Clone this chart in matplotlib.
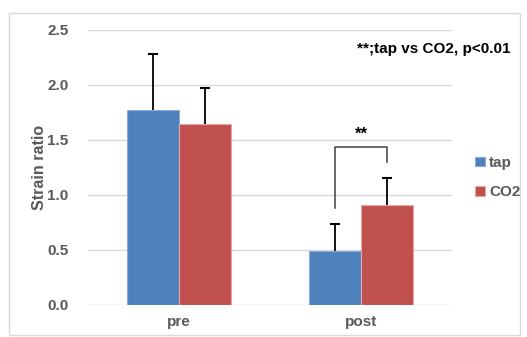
import numpy as np
import matplotlib.pyplot as plt
from matplotlib.patches import Rectangle

plt.rcParams['font.family'] = ['Liberation Sans', 'DejaVu Sans']

# data
groups = ['pre', 'post']
series = ['tap', 'CO2']
tap_mean = [1.77, 0.49]
tap_err = [0.51, 0.25]
co2_mean = [1.645, 0.905]
co2_err = [0.33, 0.245]
colors = ['#4F81BD', '#C0504D']

fig = plt.figure(figsize=(5.27, 3.37), dpi=100)
ax = fig.add_axes([0.167, 0.095, 0.691, 0.816])

# chart border
fig.patches.append(Rectangle((0.018, 0.005), 0.968, 0.957, transform=fig.transFigure,
                             fill=False, edgecolor='#D9D9D9', linewidth=1))

x = np.arange(len(groups))
w = 0.286

ax.bar(x - w / 2, tap_mean, w, color=colors[0], edgecolor='#8EAADB', linewidth=0.8,
       label=series[0], zorder=3)
ax.bar(x + w / 2, co2_mean, w, color=colors[1], edgecolor='#E6A7A6', linewidth=0.8,
       label=series[1], zorder=3)

# upper error bars only
for xs, m, e in [(x - w / 2, tap_mean, tap_err), (x + w / 2, co2_mean, co2_err)]:
    top = np.array(m) + np.array(e)
    ax.vlines(xs, m, top, color='black', linewidth=1.3, zorder=4)
    ax.plot(xs, top, ls='none', marker='_', ms=7, mew=1.5, color='black', zorder=4)

# significance bracket (post)
ax.plot([1 - w / 2, 1 - w / 2, 1 + w / 2, 1 + w / 2], [0.88, 1.44, 1.44, 1.30],
        color='#404040', linewidth=1.1, zorder=4)
ax.text(1, 1.48, '**', ha='center', va='bottom', fontsize=12, fontweight='bold')

ax.set_xlim(-0.5, 1.5)
ax.set_ylim(0, 2.5)
ax.set_yticks(np.arange(0, 2.51, 0.5))
ax.set_yticklabels(['%.1f' % v for v in np.arange(0, 2.51, 0.5)])
ax.set_xticks(x)
ax.set_xticklabels(groups)

ax.grid(axis='y', color='#D9D9D9', linewidth=1, zorder=0)
ax.set_axisbelow(True)
for s in ax.spines.values():
    s.set_visible(False)
ax.tick_params(length=0, labelsize=11, labelcolor='#595959')
ax.tick_params(axis='x', pad=7)
ax.tick_params(axis='y', pad=14)
for lab in ax.get_xticklabels() + ax.get_yticklabels():
    lab.set_fontweight('bold')

ax.set_ylabel('Strain ratio', fontsize=11.5, fontweight='bold', color='#595959', labelpad=0)

fig.text(0.677, 0.855, '**;tap vs CO2, p<0.01', fontsize=11, fontweight='bold',
         color='black', ha='left', va='center')

leg = fig.legend(loc='upper left', bbox_to_anchor=(0.876, 0.578), frameon=False,
                 handlelength=0.6, handleheight=0.6, handletextpad=0.3,
                 labelspacing=1.0, prop={'weight': 'bold', 'size': 11})
for t in leg.get_texts():
    t.set_color('#595959')

plt.savefig('out.png', dpi=100)
